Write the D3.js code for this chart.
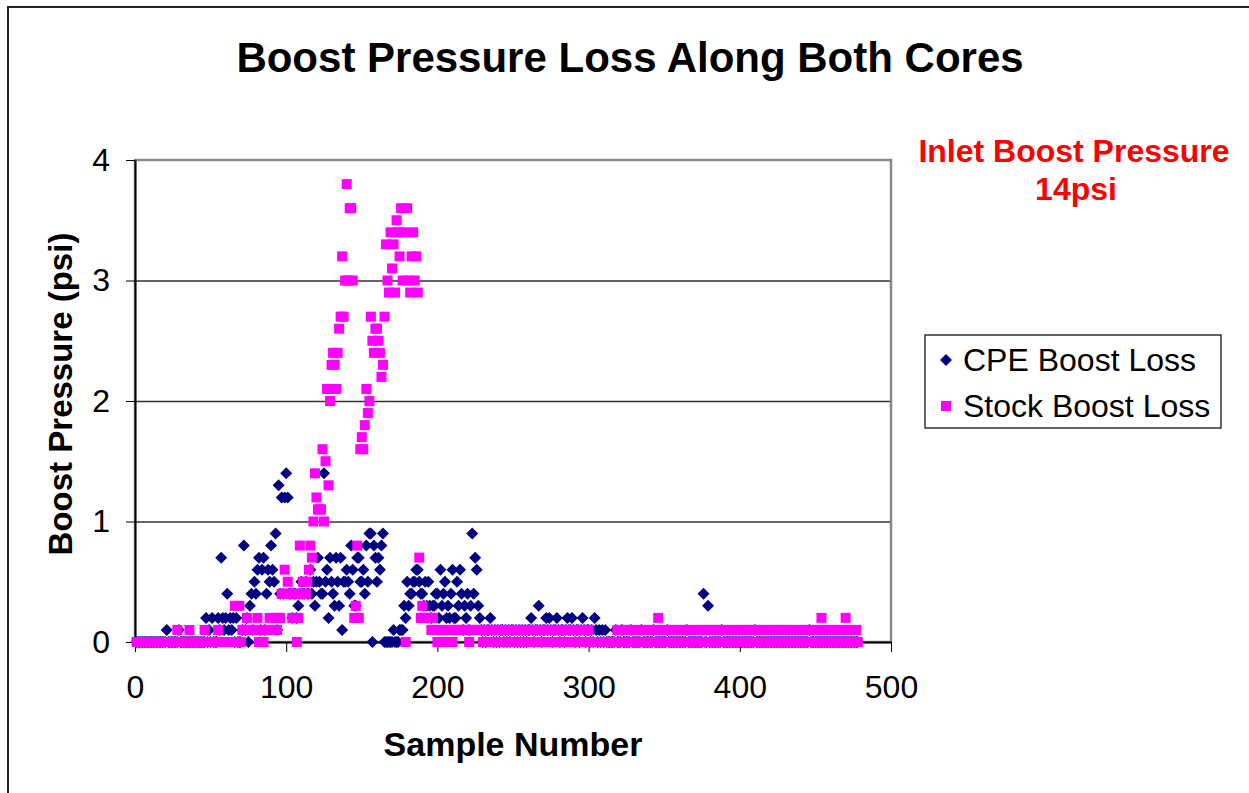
<!DOCTYPE html>
<html>
<head>
<meta charset="utf-8">
<script src="https://cdn.jsdelivr.net/npm/d3@7"></script>
<style>
  body { margin: 0; background: #fff; }
  svg { display: block; font-family: "Liberation Sans", Arial, sans-serif; }
  .axis text { font-size: 32px; fill: #000; }
  .axis path, .axis line { stroke: #000; }
  .grid line { stroke: #333; stroke-width: 1.3px; }
  .grid path { display: none; }
</style>
</head>
<body>
<script>
// sample number = index + 1 (1 .. 478)
var cpeLoss = [
  0,0,0,0,0,0,0,0,0,0,0,0,0,0,0,0,0,0,0,
  0,0.1,0,0,0,0,0,0,0,0.1,0,0,0,0,0,0,0,0,0,0,
  0,0,0,0,0,0,0,0.2,0,0.1,0,0.2,0,0,0,0.2,0.1,0.7,0.2,0.1,
  0.2,0.4,0.1,0.2,0.1,0.2,0,0.2,0,0,0,0.1,0.8,0.1,0.2,0,0.3,0.4,0.1,0.5,
  0.4,0.6,0.7,0.1,0.6,0.7,0.1,0.4,0.6,0.5,0.8,0.6,0.5,0.9,0.1,1.3,0.4,1.2,0.4,1.2,
  1.4,1.2,0.4,0.4,0.2,0.4,0.4,0.2,0.3,0.4,0.5,0.4,0.4,0.5,0.4,0.4,0.6,0.4,0.5,0.3,
  0.5,0.7,0.5,0.4,0.4,1.4,0.5,0.6,0.2,0.7,0.5,0.4,0.3,0.7,0.5,0.3,0.7,0.1,0.5,0.5,
  0.6,0.5,0.4,0.8,0.6,0.3,0.3,0.7,0.7,0.5,0.5,0.6,0.4,0.8,0.5,0.9,0.9,0,0.8,0.7,
  0.5,0.7,0.6,0.8,0.9,0,0,0,0,0,0,0.1,0,0,0,0.1,0.1,0.1,0.3,0.2,
  0.5,0.3,0.4,0.4,0.5,0.5,0.6,0.6,0.5,0.4,0.4,0.3,0.5,0.3,0.5,0.3,0.2,0.3,0.3,0.4,
  0.4,0.2,0.6,0.3,0.4,0.5,0.2,0.3,0.2,0.4,0.6,0.2,0.2,0.5,0.3,0.6,0.4,0.1,0.3,0.2,
  0.4,0.1,0.3,0.9,0.4,0.7,0.6,0.3,0.2,0.1,0,0.1,0,0.1,0.1,0.2,0.1,0,0.1,0,
  0.1,0,0.1,0.1,0,0.1,0,0.1,0,0.1,0.1,0,0.1,0,0.1,0,0.1,0,0.1,0,
  0.1,0.1,0.2,0.1,0,0.1,0.1,0.3,0.1,0,0.1,0.1,0.2,0.1,0.2,0.1,0,0.1,0.1,0.2,
  0.1,0,0.1,0.1,0,0.1,0.2,0.1,0.1,0.2,0.1,0,0.1,0.1,0,0.1,0.2,0.1,0,0.1,
  0.1,0,0.1,0,0.2,0.1,0,0.1,0,0.1,0,0.1,0,0,0,0,0,0,0.1,0,
  0,0,0.1,0,0,0,0,0,0.1,0,0,0,0,0,0,0.1,0,0,0,0,
  0,0,0,0.1,0,0,0,0,0,0,0,0,0.1,0,0,0,0,0,0,0,
  0,0,0,0,0,0.1,0,0,0,0,0,0,0,0,0,0,0.4,0,0,0.3,
  0,0,0,0,0,0,0,0,0.1,0,0,0,0,0,0,0,0,0,0,0,
  0,0,0,0,0,0,0,0,0,0,0.1,0,0,0,0,0,0,0,0,0,
  0,0,0,0,0,0,0,0,0,0,0,0,0,0,0,0,0,0,0,0,
  0,0,0,0,0,0,0.1,0,0,0,0,0,0,0,0,0,0,0,0,0,
  0,0,0,0,0,0,0,0,0,0,0,0,0,0,0,0,0,0,0
];

var stockLoss = [
  0,0,0,0,0,0,0,0,0,0,0,0,0,0,0,0,0,0,0,0,
  0,0,0,0,0,0,0,0.1,0,0,0,0,0,0,0,0.1,0,0,0,0,
  0,0,0,0,0,0.1,0,0,0,0,0,0,0,0,0.1,0,0,0,0,0,
  0,0,0,0,0,0.3,0,0,0.3,0,0.1,0.1,0.1,0.2,0.1,0.1,0.1,0.1,0.1,0.1,
  0.2,0,0.1,0.1,0,0.1,0.1,0.1,0.2,0.1,0.1,0.1,0.2,0.1,0.2,0.2,0.4,0.4,0.6,0.4,
  0.5,0.4,0.4,0.2,0.4,0.4,0,0.2,0.8,0.4,0.5,0.4,0.4,0.5,0.6,0.8,0.7,1.0,1.4,1.2,
  1.1,1.1,1.1,1.6,1.0,1.5,2.1,1.3,2.0,2.3,2.4,2.3,2.1,2.4,2.6,2.7,3.2,2.7,3.0,3.8,
  3.0,3.6,3.6,3.0,0.2,0.3,0.8,0.2,1.6,1.7,1.6,1.8,2.1,1.9,2.0,2.7,2.5,2.4,2.6,2.6,
  2.5,2.4,2.2,2.3,2.7,3.3,3.0,2.9,3.4,3.1,3.3,2.9,3.5,3.4,3.2,3.6,3.0,3.4,0,3.6,
  3.0,2.9,3.2,3.4,3.0,3.2,2.9,0.7,0.2,0.3,0.2,0.2,0.2,0.2,0.2,0.1,0.2,0.1,0.1,0,
  0.1,0,0.1,0,0.1,0,0.1,0,0.1,0,0.1,0.1,0.1,0.1,0.1,0.1,0.1,0.1,0.1,0.1,
  0,0.1,0.1,0.1,0.1,0.1,0.1,0.1,0.1,0,0.1,0,0.1,0.1,0,0.1,0,0.1,0,0.1,
  0,0.1,0.1,0,0.1,0,0.1,0,0,0.1,0.1,0,0.1,0,0.1,0,0.1,0.1,0,0.1,
  0,0.1,0,0.1,0,0,0.1,0.1,0,0.1,0,0.1,0,0.1,0.1,0,0.1,0,0,0.1,
  0.1,0,0.1,0,0.1,0,0.1,0.1,0,0.1,0,0.1,0,0,0.1,0.1,0,0.1,0,0.1,
  0,0,0,0,0,0,0,0,0,0,0,0,0,0,0,0,0,0,0.1,0,
  0.1,0.1,0,0.1,0,0.1,0,0.1,0.1,0,0.1,0,0.1,0,0,0.1,0.1,0,0.1,0,
  0.1,0,0.1,0,0.1,0.2,0,0.1,0.1,0,0.1,0,0.1,0,0.1,0.1,0,0.1,0,0.1,
  0,0.1,0,0.1,0.1,0,0.1,0,0.1,0,0,0.1,0.1,0,0.1,0,0.1,0,0.1,0.1,
  0,0.1,0,0.1,0,0.1,0.1,0,0.1,0,0.1,0,0,0.1,0.1,0,0.1,0,0.1,0,
  0.1,0,0.1,0.1,0,0.1,0,0.1,0,0.1,0.1,0,0.1,0,0.1,0,0,0.1,0.1,0,
  0.1,0,0.1,0,0.1,0.1,0,0.1,0,0.1,0,0.1,0.1,0,0.1,0,0,0.1,0.1,0,
  0.1,0,0.1,0,0.1,0,0.1,0.1,0,0.1,0,0.1,0,0.2,0.1,0,0.1,0,0.1,0.1,
  0,0.1,0,0.1,0,0.1,0.1,0,0.1,0.2,0,0.1,0,0.1,0,0.1,0.1,0
];

var xTicks = [0, 100, 200, 300, 400, 500];
var yTicks = [0, 1, 2, 3, 4];
var seriesNames = ["CPE Boost Loss", "Stock Boost Loss"];

var W = 1249, H = 793;
var plot = { left: 135, top: 160, right: 891, bottom: 642 };

var x = d3.scaleLinear().domain([0, 500]).range([plot.left, plot.right]);
var y = d3.scaleLinear().domain([0, 4]).range([plot.bottom, plot.top]);

var svg = d3.select("body").append("svg")
  .attr("width", W)
  .attr("height", H);

// chart border (runs off the right and bottom edges)
svg.append("rect")
  .attr("x", 8).attr("y", 7)
  .attr("width", 1300).attr("height", 850)
  .attr("fill", "#fff")
  .attr("stroke", "#222")
  .attr("stroke-width", 2);

// gridlines
svg.append("g")
  .attr("class", "grid")
  .attr("transform", "translate(" + plot.left + ",0)")
  .call(d3.axisLeft(y).tickValues([1, 2, 3]).tickSize(-(plot.right - plot.left)).tickFormat(""));

// plot frame
svg.append("rect")
  .attr("x", plot.left).attr("y", plot.top)
  .attr("width", plot.right - plot.left)
  .attr("height", plot.bottom - plot.top)
  .attr("fill", "none")
  .attr("stroke", "#888")
  .attr("stroke-width", 2.5);

svg.append("g")
  .attr("class", "axis axis--y")
  .attr("transform", "translate(" + plot.left + ",0)")
  .call(d3.axisLeft(y).tickValues(yTicks).tickSize(9).tickPadding(16).tickSizeOuter(0).tickFormat(d3.format("d")))
  .call(function(g) { g.select(".domain").attr("stroke-width", 2); });

svg.append("g")
  .attr("class", "axis axis--x")
  .attr("transform", "translate(0," + plot.bottom + ")")
  .call(d3.axisBottom(x).tickValues(xTicks).tickSize(10).tickPadding(23).tickSizeOuter(0))
  .call(function(g) { g.select(".domain").attr("stroke-width", 2); });

var diamond = "M0,-6L6,0L0,6L-6,0Z";

// CPE series
svg.append("g")
  .selectAll("path")
  .data(cpeLoss)
  .enter().append("path")
    .attr("d", diamond)
    .attr("fill", "#000080")
    .attr("transform", function(d, i) { return "translate(" + x(i + 1) + "," + y(d) + ")"; });

// Stock series (drawn on top)
svg.append("g")
  .selectAll("rect")
  .data(stockLoss)
  .enter().append("rect")
    .attr("x", function(d, i) { return x(i + 1) - 5; })
    .attr("y", function(d) { return y(d) - 5; })
    .attr("width", 10)
    .attr("height", 10)
    .attr("fill", "#ff00ff");

// titles
svg.append("text")
  .attr("x", 630).attr("y", 72)
  .attr("text-anchor", "middle")
  .style("font-size", "42px").style("font-weight", "bold")
  .text("Boost Pressure Loss Along Both Cores");

svg.append("text")
  .attr("x", 513).attr("y", 756)
  .attr("text-anchor", "middle")
  .style("font-size", "34px").style("font-weight", "bold")
  .text("Sample Number");

svg.append("text")
  .attr("transform", "translate(72,394) rotate(-90)")
  .attr("text-anchor", "middle")
  .style("font-size", "33px").style("font-weight", "bold")
  .text("Boost Pressure (psi)");

var note = svg.append("g")
  .attr("fill", "#ff0000")
  .style("font-size", "32px").style("font-weight", "bold")
  .attr("text-anchor", "middle");
note.append("text").attr("x", 1074).attr("y", 162).text("Inlet Boost Pressure");
note.append("text").attr("x", 1076).attr("y", 200).text("14psi");

// legend
var legend = svg.append("g").attr("transform", "translate(925,335)");
legend.append("rect")
  .attr("width", 296).attr("height", 93)
  .attr("fill", "#fff").attr("stroke", "#000").attr("stroke-width", 1.2);

var items = legend.selectAll(".item")
  .data(seriesNames)
  .enter().append("g")
    .attr("class", "item")
    .attr("transform", function(d, i) { return "translate(0," + (25 + i * 46) + ")"; });

items.filter(function(d, i) { return i === 0; })
  .append("path").attr("d", diamond).attr("fill", "#000080")
  .attr("transform", "translate(21,0)");
items.filter(function(d, i) { return i === 1; })
  .append("rect").attr("x", 16).attr("y", -5).attr("width", 10).attr("height", 10)
  .attr("fill", "#ff00ff");

items.append("text")
  .attr("x", 38).attr("y", 11)
  .style("font-size", "32px")
  .text(function(d) { return d; });
</script>
</body>
</html>
